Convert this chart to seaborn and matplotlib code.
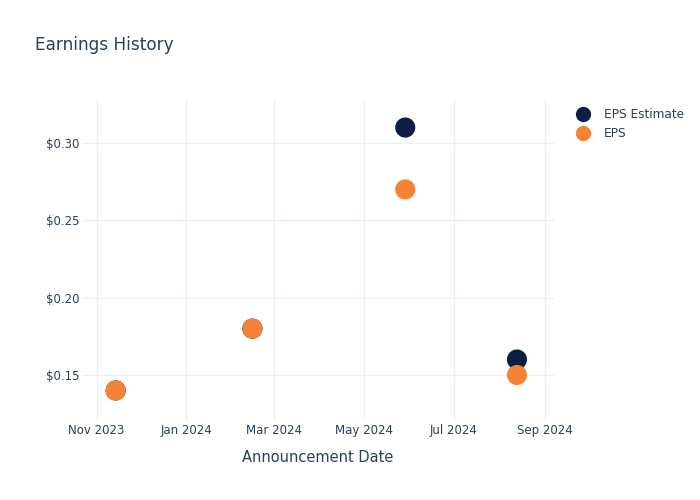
import matplotlib
matplotlib.use("Agg")
import matplotlib.pyplot as plt
import matplotlib.dates as mdates
import seaborn as sns
import pandas as pd
import numpy as np

dates = ["2023-11-14", "2024-02-15", "2024-05-29", "2024-08-13"]
eps_estimate = [0.14, 0.18, 0.31, 0.16]
eps_actual = [0.14, 0.18, 0.27, 0.15]
series_names = ["EPS Estimate", "EPS"]
colors = ["#0c1f42", "#f58235"]

df = pd.DataFrame({
    "date": pd.to_datetime(dates * 2),
    "value": eps_estimate + eps_actual,
    "series": [series_names[0]] * 4 + [series_names[1]] * 4,
})

sns.set_theme(style="white")
plt.rcParams["font.family"] = ["DejaVu Sans"]
text_color = "#2a3f5f"
grid_color = "#ebf0f8"

fig = plt.figure(figsize=(7, 5), dpi=100)
ax = fig.add_axes([0.117, 0.16, 0.674, 0.64])

sns.scatterplot(data=df, x="date", y="value", hue="series",
                palette=dict(zip(series_names, colors)), s=210,
                edgecolor="none", ax=ax, legend=False, zorder=3)

ax.set_xlim(pd.Timestamp("2023-10-22"), pd.Timestamp("2024-09-07"))
ax.set_ylim(0.1209, 0.3278)
ax.set_yticks([0.15, 0.20, 0.25, 0.30])
ax.yaxis.set_major_formatter(matplotlib.ticker.FuncFormatter(lambda v, p: f"${v:.2f}"))
ax.xaxis.set_major_locator(mdates.MonthLocator(bymonth=[1, 3, 5, 7, 9, 11]))
ax.xaxis.set_major_formatter(mdates.DateFormatter("%b %Y"))

ax.grid(True, color=grid_color, linewidth=1)
ax.set_axisbelow(True)
for sp in ax.spines.values():
    sp.set_visible(False)
ax.tick_params(axis="both", length=0, labelsize=8.5, colors=text_color)
ax.tick_params(axis="y", pad=2)
ax.tick_params(axis="x", pad=3)
ax.set_xlabel("Announcement Date", fontsize=10.5, color=text_color, labelpad=9)
ax.set_ylabel("")

fig.text(0.05, 0.911, "Earnings History", fontsize=12.2, color=text_color, va="center")

handles = [plt.Line2D([], [], marker="o", linestyle="none", markersize=11,
                      markerfacecolor=c, markeredgecolor="none") for c in colors]
leg = fig.legend(handles, series_names, loc="upper left", bbox_to_anchor=(0.807, 0.805),
                 frameon=False, fontsize=8.7, handletextpad=1.1, labelspacing=0.45,
                 handlelength=1.2)
for t in leg.get_texts():
    t.set_color(text_color)

fig.savefig("out.png", dpi=100)
